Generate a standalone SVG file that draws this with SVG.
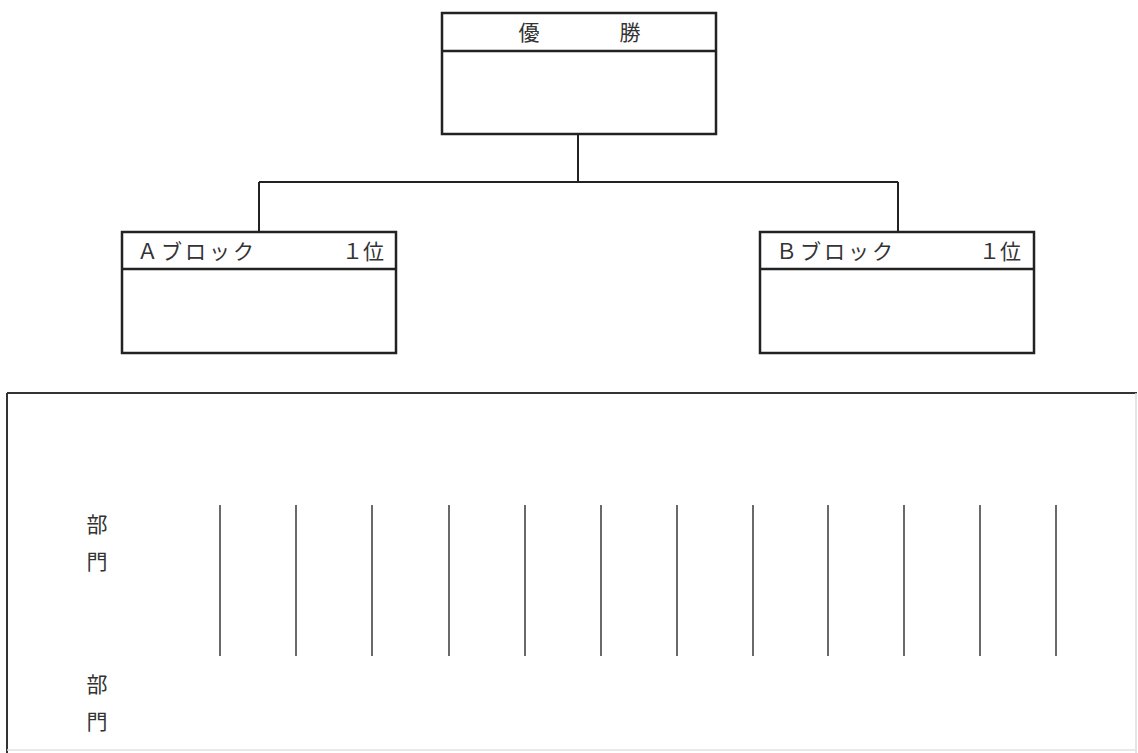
<svg xmlns="http://www.w3.org/2000/svg" width="1138" height="753" viewBox="0 0 1138 753">
<style>
.box{fill:#fff;stroke:#222;stroke-width:2.5}
.hl{stroke:#222;stroke-width:2.5}
.con{stroke:#222;stroke-width:2;fill:none}
.t{font-family:"Noto Sans CJK JP","Noto Sans",sans-serif;font-size:21px;fill:#333}
.div{stroke:#444;stroke-width:1.6}
</style>
<rect width="1138" height="753" fill="#fff"/>
<g id="connectors">
<line class="con" x1="578" y1="134" x2="578" y2="182"/>
<line class="con" x1="259" y1="182" x2="898" y2="182"/>
<line class="con" x1="259" y1="182" x2="259" y2="232"/>
<line class="con" x1="898" y1="182" x2="898" y2="232"/>
</g>
<g id="winner">
<rect class="box" x="442" y="13" width="274" height="121"/>
<line class="hl" x1="442" y1="51" x2="716" y2="51"/>
<text class="t" x="529" y="40" text-anchor="middle" font-size="22">優</text>
<text class="t" x="630" y="40" text-anchor="middle" font-size="22">勝</text>
</g>
<g id="blockA">
<rect class="box" x="122" y="232" width="274" height="121"/>
<line class="hl" x1="122" y1="269" x2="396" y2="269"/>
<text class="t" x="137" y="259" letter-spacing="3">Ａブロック</text>
<text class="t" x="384" y="259" text-anchor="end">１位</text>
</g>
<g id="blockB">
<rect class="box" x="760" y="232" width="274" height="121"/>
<line class="hl" x1="760" y1="269" x2="1034" y2="269"/>
<text class="t" x="776" y="259" letter-spacing="3">Ｂブロック</text>
<text class="t" x="1021" y="259" text-anchor="end">１位</text>
</g>
<g id="departments">
<line x1="7" y1="393" x2="1137" y2="393" stroke="#333" stroke-width="2"/>
<line x1="7" y1="393" x2="7" y2="753" stroke="#333" stroke-width="2"/>
<line x1="1136" y1="393" x2="1136" y2="753" stroke="#ddd" stroke-width="1.5"/>
<line x1="7" y1="750" x2="1137" y2="750" stroke="#e2e2e2" stroke-width="1.5"/>
<text class="t" x="97" y="532" text-anchor="middle">部</text>
<text class="t" x="97" y="569" text-anchor="middle">門</text>
<text class="t" x="97" y="692" text-anchor="middle">部</text>
<text class="t" x="97" y="729" text-anchor="middle">門</text>
<line class="div" x1="220" y1="505" x2="220" y2="656"/>
<line class="div" x1="296" y1="505" x2="296" y2="656"/>
<line class="div" x1="372" y1="505" x2="372" y2="656"/>
<line class="div" x1="449" y1="505" x2="449" y2="656"/>
<line class="div" x1="525" y1="505" x2="525" y2="656"/>
<line class="div" x1="601" y1="505" x2="601" y2="656"/>
<line class="div" x1="677" y1="505" x2="677" y2="656"/>
<line class="div" x1="753" y1="505" x2="753" y2="656"/>
<line class="div" x1="828" y1="505" x2="828" y2="656"/>
<line class="div" x1="904" y1="505" x2="904" y2="656"/>
<line class="div" x1="980" y1="505" x2="980" y2="656"/>
<line class="div" x1="1056" y1="505" x2="1056" y2="656"/>
</g>
</svg>
